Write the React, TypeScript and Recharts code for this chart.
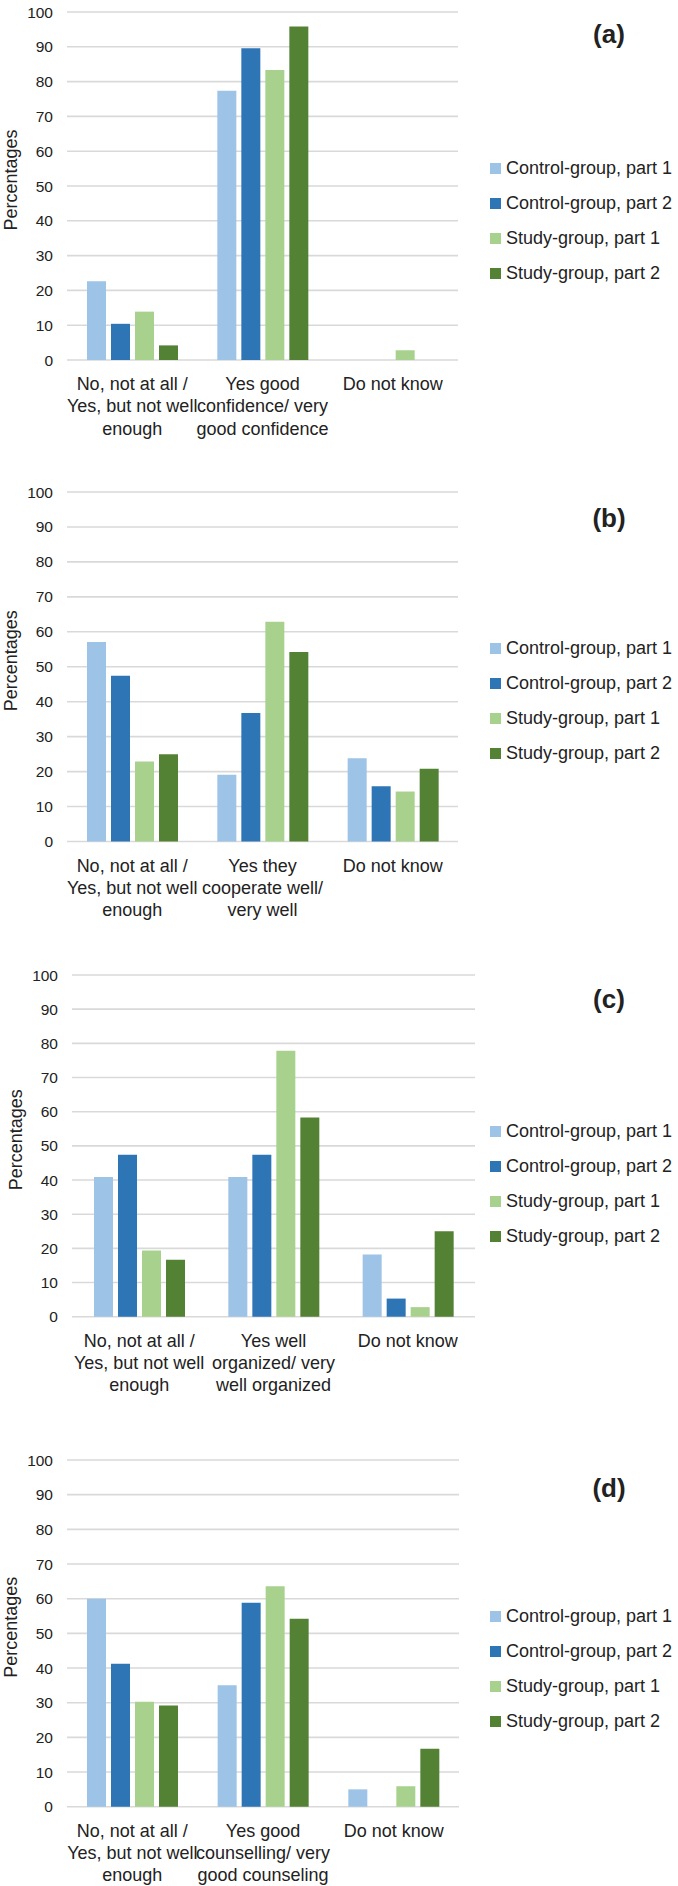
import React from 'react';
import { BarChart, Bar, XAxis, YAxis, CartesianGrid, Legend, Label } from 'recharts';

// ---------- data ----------
const seriesNames = ['Control-group, part 1', 'Control-group, part 2', 'Study-group, part 1', 'Study-group, part 2'];
const seriesKeys = ['cp1', 'cp2', 'sp1', 'sp2'];
const seriesColors = ['#9DC3E6', '#2E75B6', '#A9D18E', '#548235'];
const yTicks = [0, 10, 20, 30, 40, 50, 60, 70, 80, 90, 100];

const categoriesA = ['No, not at all /\nYes, but not well\nenough', 'Yes good\nconfidence/ very\ngood confidence', 'Do not know'];
const categoriesB = ['No, not at all /\nYes, but not well\nenough', 'Yes they\ncooperate well/\nvery well', 'Do not know'];
const categoriesC = ['No, not at all /\nYes, but not well\nenough', 'Yes well\norganized/ very\nwell organized', 'Do not know'];
const categoriesD = ['No, not at all /\nYes, but not well\nenough', 'Yes good\ncounselling/ very\ngood counseling', 'Do not know'];

const controlPart1A = [22.6, 77.4, 0];
const controlPart2A = [10.4, 89.6, 0];
const studyPart1A = [13.9, 83.3, 2.8];
const studyPart2A = [4.2, 95.8, 0];

const controlPart1B = [57.1, 19.1, 23.8];
const controlPart2B = [47.4, 36.8, 15.8];
const studyPart1B = [22.9, 62.9, 14.3];
const studyPart2B = [25.0, 54.2, 20.8];

const controlPart1C = [40.9, 40.9, 18.2];
const controlPart2C = [47.4, 47.4, 5.3];
const studyPart1C = [19.4, 77.8, 2.8];
const studyPart2C = [16.7, 58.3, 25.0];

const controlPart1D = [60.0, 35.0, 5.0];
const controlPart2D = [41.2, 58.8, 0];
const studyPart1D = [30.3, 63.6, 5.9];
const studyPart2D = [29.2, 54.2, 16.7];

const panelLabels = ['(a)', '(b)', '(c)', '(d)'];

const buildRows = (cats: string[], s1: number[], s2: number[], s3: number[], s4: number[]) =>
  cats.map((cat, i) => ({ cat, cp1: s1[i], cp2: s2[i], sp1: s3[i], sp2: s4[i] }));

const dataA = buildRows(categoriesA, controlPart1A, controlPart2A, studyPart1A, studyPart2A);
const dataB = buildRows(categoriesB, controlPart1B, controlPart2B, studyPart1B, studyPart2B);
const dataC = buildRows(categoriesC, controlPart1C, controlPart2C, studyPart1C, studyPart2C);
const dataD = buildRows(categoriesD, controlPart1D, controlPart2D, studyPart1D, studyPart2D);

// ---------- layout ----------
const W = 678;
const MARGIN_TOP = 12;
const XAXIS_H = 80;
const TEXT = '#222';
const GRID = '#D9D9D9';

const layouts = [
  { top: 0, plotH: 348, left: 67, right: 458, labelY: 33.5 },
  { top: 480, plotH: 349.5, left: 67, right: 458, labelY: 517.7 },
  { top: 963, plotH: 341.7, left: 72, right: 475, labelY: 999 },
  { top: 1448, plotH: 346.7, left: 67, right: 459, labelY: 1488 },
];

const CatTick = (props: any) => {
  const { x, y, payload } = props;
  const lines = String(payload.value).split('\n');
  return (
    <text x={x} y={y} textAnchor="middle" fontSize={18} fill={TEXT}>
      {lines.map((l, i) => (
        <tspan key={i} x={x} dy={i === 0 ? 30 : 22.3}>
          {l}
        </tspan>
      ))}
    </text>
  );
};

const LegendContent = () => (
  <div>
    {seriesNames.map((n, i) => (
      <div key={n} style={{ display: 'flex', alignItems: 'center', height: 35 }}>
        <span style={{ display: 'inline-block', width: 11, height: 11, background: seriesColors[i], marginRight: 5 }} />
        <span style={{ fontSize: 18, color: TEXT, whiteSpace: 'nowrap' }}>{n}</span>
      </div>
    ))}
  </div>
);

const PercLabel = (props: any) => {
  const vb = props.viewBox || {};
  const x = (vb.x || 0) + (vb.width || 0) - 56;
  const y = (vb.y || 0) + (vb.height || 0) / 2 - 6;
  return (
    <text
      x={x}
      y={y}
      transform={`rotate(-90 ${x} ${y})`}
      textAnchor="middle"
      dominantBaseline="central"
      fontSize={18}
      fill={TEXT}
    >
      Percentages
    </text>
  );
};

const Panel = ({ data, idx }: { data: any[]; idx: number }) => {
  const L = layouts[idx];
  const h = MARGIN_TOP + L.plotH + XAXIS_H;
  return (
    <div style={{ position: 'absolute', left: 0, top: L.top, width: W, height: h }}>
      <BarChart
        width={W}
        height={h}
        data={data}
        margin={{ top: MARGIN_TOP, right: W - L.right, bottom: 0, left: 0 }}
        barSize={19}
        barGap={5}
      >
        <CartesianGrid vertical={false} stroke={GRID} strokeWidth={1.6} />
        <XAxis
          dataKey="cat"
          tick={<CatTick />}
          tickLine={false}
          axisLine={false}
          tickSize={0}
          tickMargin={0}
          height={XAXIS_H}
          interval={0}
        />
        <YAxis
          domain={[0, 100]}
          ticks={yTicks}
          width={L.left}
          tickLine={false}
          axisLine={false}
          tickMargin={8}
          interval={0}
          tick={{ fontSize: 15.5, fill: TEXT }}
        >
          <Label content={<PercLabel />} />
        </YAxis>
        <Legend
          layout="vertical"
          align="center"
          verticalAlign="middle"
          content={<LegendContent />}
          wrapperStyle={{ left: 490, top: MARGIN_TOP + 138.5, width: 190 }}
        />
        {seriesKeys.map((k, i) => (
          <Bar key={k} dataKey={k} name={seriesNames[i]} fill={seriesColors[i]} isAnimationActive={false} />
        ))}
      </BarChart>
      <div
        style={{
          position: 'absolute',
          left: 609 - 40,
          width: 80,
          top: L.labelY - L.top - 16,
          height: 32,
          lineHeight: '32px',
          textAlign: 'center',
          fontSize: 26,
          fontWeight: 'bold',
          color: TEXT,
        }}
      >
        {panelLabels[idx]}
      </div>
    </div>
  );
};

export default function App() {
  return (
    <div
      style={{
        position: 'absolute',
        left: 0,
        top: 0,
        width: W,
        height: 1886,
        overflow: 'hidden',
        background: '#fff',
        fontFamily: '"Liberation Sans", Arial, Helvetica, sans-serif',
      }}
    >
      <Panel data={dataA} idx={0} />
      <Panel data={dataB} idx={1} />
      <Panel data={dataC} idx={2} />
      <Panel data={dataD} idx={3} />
    </div>
  );
}
